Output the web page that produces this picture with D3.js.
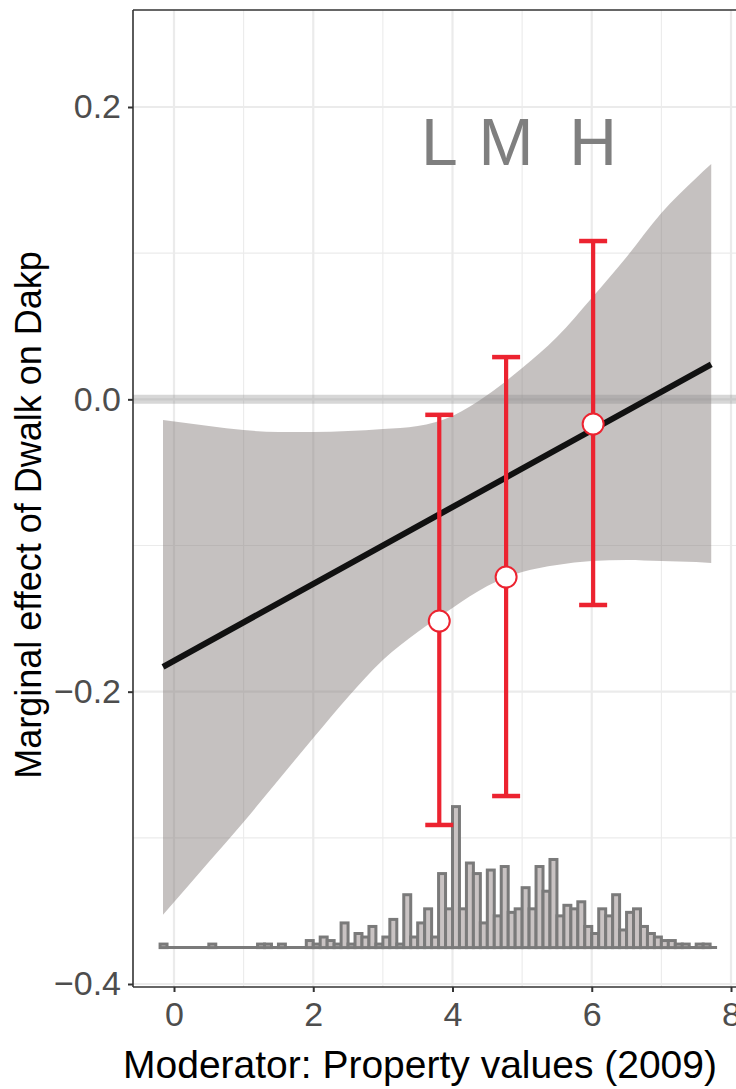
<!DOCTYPE html>
<html>
<head>
<meta charset="utf-8">
<script src="https://cdn.jsdelivr.net/npm/d3@7"></script>
<style>
  body { margin: 0; background: #fff; }
  text { font-family: "Liberation Sans", Arial, sans-serif; }
</style>
</head>
<body>
<div id="chart"></div>
<script>
//tick values
var xTicks = [0, 2, 4, 6, 8];
var xMinor = [1, 3, 5, 7];
var yTicks = [-0.4, -0.2, 0, 0.2];
var yMinor = [-0.3, -0.1, 0.1];

//estimated marginal effect line (two ends)
var lineX = [-0.158, 7.716];
var lineY = [-0.183, 0.024];

//confidence band
var bandX = [-0.158, 0.5, 1, 1.5, 2, 2.5, 3, 3.5, 4, 4.5, 5, 5.5, 6, 6.5, 7, 7.5, 7.716];
var bandUpper = [-0.0142, -0.0183, -0.0210, -0.0224, -0.0224, -0.0217, -0.0203, -0.0183, -0.0114,
  0.0029, 0.0214, 0.0426, 0.0693, 0.0974, 0.1275, 0.1515, 0.1610];
var bandLower = [-0.3527, -0.3165, -0.2891, -0.2604, -0.2317, -0.2036, -0.1783, -0.1592, -0.1427,
  -0.1277, -0.1181, -0.1133, -0.1106, -0.1099, -0.1106, -0.1113, -0.1120];

//binned estimates (low, medium, high)
var binLabels = ["L", "M", "H"];
var binX = [3.81, 4.77, 6.02];
var binEst = [-0.1517, -0.1216, -0.0169];
var binLo = [-0.2912, -0.2714, -0.1407];
var binHi = [-0.0106, 0.0289, 0.1083];

//histogram of the moderator (bins of 0.1 starting at -0.2)
var histStart = -0.2;
var histStep = 0.1;
var histCounts = [1, 0, 0, 0, 0, 0, 0, 1, 0, 0,
  0, 0, 0, 0, 1, 1, 0, 1, 0, 0,
  0, 2, 1, 3, 2, 1, 7, 1, 4, 3,
  6, 1, 3, 8, 1, 15, 3, 7, 11, 3,
  21, 11, 40, 11, 24, 21, 7, 22, 9, 23,
  10, 11, 17, 11, 23, 16, 25, 9, 12, 11,
  13, 6, 4, 11, 9, 15, 5, 10, 11, 6,
  4, 3, 2, 2, 1, 1, 0, 1, 1, 0];
var histBase = -0.3751;

//define SVG size
var svgWidth = 736;
var svgHeight = 1089;

//panel edges
var panel = { left: 133, top: 10, right: 760, bottom: 987 };

var svg = d3.select("#chart")
  .append("svg")
  .attr("width", svgWidth)
  .attr("height", svgHeight);

//scales
var xScale = d3.scaleLinear().domain([0, 8]).range([174, 731]);
var yScale = d3.scaleLinear().domain([-0.4, 0.2]).range([984, 107]);
var histScale = d3.scaleLinear().domain([0, 40]).range([yScale(histBase), yScale(histBase) - 141]);

svg.append("clipPath")
  .attr("id", "clip")
  .append("rect")
  .attr("x", panel.left)
  .attr("y", panel.top)
  .attr("width", panel.right - panel.left)
  .attr("height", panel.bottom - panel.top);

//grid lines
var grid = svg.append("g").attr("clip-path", "url(#clip)");

grid.selectAll("line.xminor")
  .data(xMinor)
  .enter()
  .append("line")
  .attr("x1", d => xScale(d))
  .attr("x2", d => xScale(d))
  .attr("y1", panel.top)
  .attr("y2", panel.bottom)
  .attr("stroke", "#ebebeb")
  .attr("stroke-width", 1.1);

grid.selectAll("line.yminor")
  .data(yMinor)
  .enter()
  .append("line")
  .attr("x1", panel.left)
  .attr("x2", panel.right)
  .attr("y1", d => yScale(d))
  .attr("y2", d => yScale(d))
  .attr("stroke", "#ebebeb")
  .attr("stroke-width", 1.1);

grid.selectAll("line.xmajor")
  .data(xTicks)
  .enter()
  .append("line")
  .attr("x1", d => xScale(d))
  .attr("x2", d => xScale(d))
  .attr("y1", panel.top)
  .attr("y2", panel.bottom)
  .attr("stroke", "#ebebeb")
  .attr("stroke-width", 2.2);

grid.selectAll("line.ymajor")
  .data(yTicks)
  .enter()
  .append("line")
  .attr("x1", panel.left)
  .attr("x2", panel.right)
  .attr("y1", d => yScale(d))
  .attr("y2", d => yScale(d))
  .attr("stroke", "#ebebeb")
  .attr("stroke-width", 2.2);

var plot = svg.append("g").attr("clip-path", "url(#clip)");

//confidence band
var bandData = bandX.map((x, i) => ({ x: x, lo: bandLower[i], hi: bandUpper[i] }));
var area = d3.area()
  .x(d => xScale(d.x))
  .y0(d => yScale(d.lo))
  .y1(d => yScale(d.hi))
  .curve(d3.curveMonotoneX);

plot.append("path")
  .datum(bandData)
  .attr("d", area)
  .attr("fill", "#7f7573")
  .attr("fill-opacity", 0.45);

//zero reference line
plot.append("line")
  .attr("x1", panel.left)
  .attr("x2", panel.right)
  .attr("y1", yScale(0))
  .attr("y2", yScale(0))
  .attr("stroke", "#8c8c8c")
  .attr("stroke-opacity", 0.35)
  .attr("stroke-width", 9);

//marginal effect line
plot.append("line")
  .attr("x1", xScale(lineX[0]))
  .attr("x2", xScale(lineX[1]))
  .attr("y1", yScale(lineY[0]))
  .attr("y2", yScale(lineY[1]))
  .attr("stroke", "#111")
  .attr("stroke-width", 6);

//histogram
var histData = histCounts.map((c, i) => ({ x0: histStart + i * histStep, x1: histStart + (i + 1) * histStep, n: c }));

plot.append("line")
  .attr("x1", xScale(histStart))
  .attr("x2", xScale(histStart + histCounts.length * histStep))
  .attr("y1", histScale(0))
  .attr("y2", histScale(0))
  .attr("stroke", "#7a7a7a")
  .attr("stroke-width", 3);

plot.selectAll("rect.hist")
  .data(histData.filter(d => d.n > 0))
  .enter()
  .append("rect")
  .attr("x", d => xScale(d.x0))
  .attr("width", d => xScale(d.x1) - xScale(d.x0))
  .attr("y", d => histScale(d.n))
  .attr("height", d => histScale(0) - histScale(d.n))
  .attr("fill", "#c9c3c3")
  .attr("stroke", "#7a7a7a")
  .attr("stroke-width", 3);

//binned estimates with error bars
var bins = binX.map((x, i) => ({ x: x, est: binEst[i], lo: binLo[i], hi: binHi[i], label: binLabels[i] }));
var red = "#ec2330";

var binGroup = plot.selectAll("g.bin")
  .data(bins)
  .enter()
  .append("g");

binGroup.append("line")
  .attr("x1", d => xScale(d.x))
  .attr("x2", d => xScale(d.x))
  .attr("y1", d => yScale(d.lo))
  .attr("y2", d => yScale(d.hi))
  .attr("stroke", red)
  .attr("stroke-width", 4.2);

binGroup.append("line")
  .attr("x1", d => xScale(d.x) - 14)
  .attr("x2", d => xScale(d.x) + 14)
  .attr("y1", d => yScale(d.hi))
  .attr("y2", d => yScale(d.hi))
  .attr("stroke", red)
  .attr("stroke-width", 4.5);

binGroup.append("line")
  .attr("x1", d => xScale(d.x) - 14)
  .attr("x2", d => xScale(d.x) + 14)
  .attr("y1", d => yScale(d.lo))
  .attr("y2", d => yScale(d.lo))
  .attr("stroke", red)
  .attr("stroke-width", 4.5);

binGroup.append("circle")
  .attr("cx", d => xScale(d.x))
  .attr("cy", d => yScale(d.est))
  .attr("r", 10.5)
  .attr("fill", "#fff")
  .attr("stroke", red)
  .attr("stroke-width", 2);

binGroup.append("text")
  .attr("x", d => xScale(d.x))
  .attr("y", yScale(0.160))
  .attr("text-anchor", "middle")
  .attr("font-size", 66)
  .attr("fill", "#7f7f7f")
  .text(d => d.label);

//panel border (left and top) and axes
var axisColor = "#333333";

var bottomAxis = d3.axisBottom(xScale)
  .tickValues(xTicks)
  .tickSize(5)
  .tickPadding(10)
  .tickFormat(d3.format("d"));

var leftAxis = d3.axisLeft(yScale)
  .tickValues(yTicks)
  .tickSize(5)
  .tickPadding(7)
  .tickFormat(d => d3.format(".1f")(d).replace("-", "\u2212"));

var xAxis = svg.append("g")
  .attr("transform", `translate(0, ${panel.bottom})`)
  .call(bottomAxis);

var yAxis = svg.append("g")
  .attr("transform", `translate(${panel.left}, 0)`)
  .call(leftAxis);

[xAxis, yAxis].forEach(function(ax) {
  ax.select(".domain").remove();
  ax.selectAll(".tick line").attr("stroke", axisColor).attr("stroke-width", 2);
  ax.selectAll(".tick text")
    .attr("fill", "#4d4d4d")
    .attr("font-size", 34)
    .attr("font-family", "Liberation Sans, Arial, sans-serif");
});

svg.append("line")
  .attr("x1", panel.left)
  .attr("x2", panel.left)
  .attr("y1", panel.top)
  .attr("y2", panel.bottom)
  .attr("stroke", axisColor)
  .attr("stroke-width", 1.6);

svg.append("line")
  .attr("x1", panel.left)
  .attr("x2", svgWidth)
  .attr("y1", panel.top)
  .attr("y2", panel.top)
  .attr("stroke", axisColor)
  .attr("stroke-width", 1.6);

svg.append("line")
  .attr("x1", panel.left)
  .attr("x2", svgWidth)
  .attr("y1", panel.bottom)
  .attr("y2", panel.bottom)
  .attr("stroke", axisColor)
  .attr("stroke-width", 1.6);

//axis titles
svg.append("text")
  .attr("x", 420)
  .attr("y", 1078)
  .attr("text-anchor", "middle")
  .attr("font-size", 39)
  .attr("fill", "#000")
  .text("Moderator: Property values (2009)");

svg.append("text")
  .attr("transform", "translate(41, 515) rotate(-90)")
  .attr("text-anchor", "middle")
  .attr("font-size", 36)
  .attr("fill", "#000")
  .text("Marginal effect of Dwalk on Dakp");
</script>
</body>
</html>
